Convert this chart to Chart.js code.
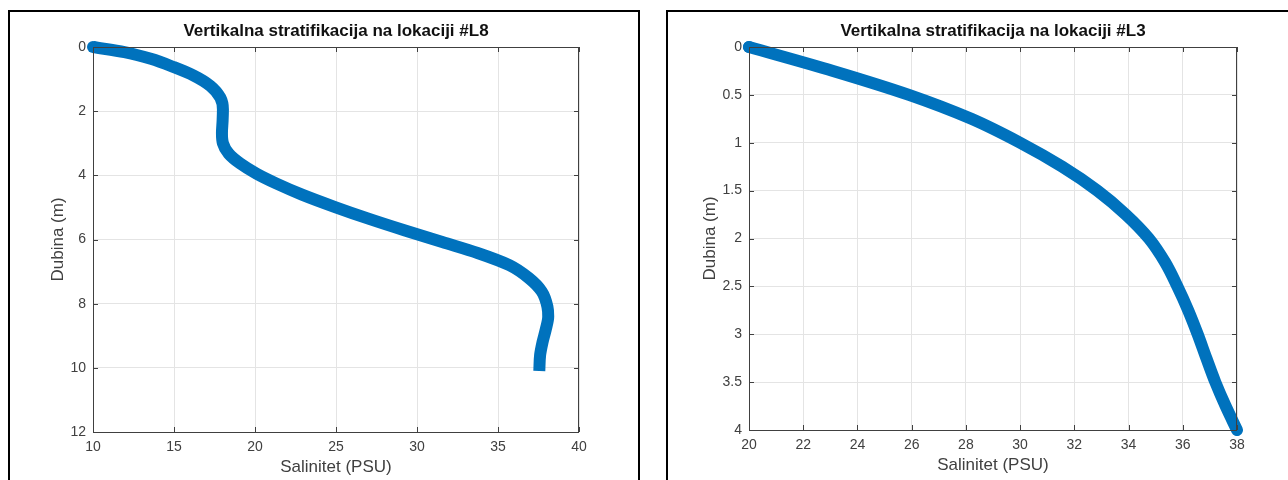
<!DOCTYPE html>
<html>
<head>
<meta charset="utf-8">
<script src="https://cdn.jsdelivr.net/npm/chart.js@4"></script>
<style>
  html, body { margin: 0; padding: 0; background: #fff; overflow: hidden; }
  .panel { position: absolute; top: 10px; height: 480px; border: 2px solid #000; border-bottom: none; }
  #p1 { left: 8px; width: 628px; }
  #p2 { left: 666px; width: 630px; }
  canvas { position: absolute; left: 0; top: 0; }
</style>
</head>
<body>
<div class="panel" id="p1"><canvas id="chartL8" width="628" height="468"></canvas></div>
<div class="panel" id="p2"><canvas id="chartL3" width="622" height="468"></canvas></div>
<script>
// lokacija #L8 - salinitet (PSU) po dubini (m)
const l8Salinity = [10, 11.94, 13.57, 15.0, 16.22, 17.24, 17.86, 18.02, 18.0, 17.96, 18.02, 18.37, 19.08, 20.1, 21.3, 22.9, 24.9, 27.0, 29.26, 31.56, 33.74, 35.7, 36.9, 37.7, 38.05, 38.1, 37.95, 37.75, 37.6, 37.55];
const l8Depth    = [0, 0.16, 0.37, 0.63, 0.89, 1.21, 1.58, 1.95, 2.3, 2.68, 3.0, 3.32, 3.63, 3.95, 4.25, 4.6, 4.98, 5.35, 5.72, 6.08, 6.42, 6.8, 7.2, 7.62, 8.09, 8.4, 8.8, 9.2, 9.6, 10.1];
const l8SalTicks   = [10, 15, 20, 25, 30, 35, 40];
const l8DepthTicks = [0, 2, 4, 6, 8, 10, 12];

// lokacija #L3
const l3Salinity = [20, 23.1, 25.9, 28.2, 30.0, 31.55, 32.85, 33.9, 34.75, 35.35, 35.8, 36.2, 36.55, 36.87, 37.2, 37.58, 38];
const l3Depth    = [0, 0.25, 0.5, 0.75, 1.0, 1.25, 1.5, 1.75, 2.0, 2.25, 2.5, 2.75, 3.0, 3.25, 3.5, 3.75, 4.0];
const l3SalTicks   = [20, 22, 24, 26, 28, 30, 32, 34, 36, 38];
const l3DepthTicks = [0, 0.5, 1, 1.5, 2, 2.5, 3, 3.5, 4];

const FONT = "'Liberation Sans', Arial, Helvetica, sans-serif";
const BLUE = '#0072BD';

// matlab style box with inward ticks
const boxPlugin = {
  id: 'box',
  afterDraw(chart) {
    const {ctx, chartArea: a, scales: {x, y}} = chart;
    ctx.save();
    ctx.strokeStyle = '#404040';
    ctx.lineWidth = 1;
    ctx.beginPath();
    ctx.rect(a.left + 0.5, a.top + 0.5, a.right - a.left - 1, a.bottom - a.top);
    x.ticks.forEach(t => {
      const px = Math.round(x.getPixelForValue(t.value)) + 0.5;
      ctx.moveTo(px, a.bottom); ctx.lineTo(px, a.bottom - 5);
      ctx.moveTo(px, a.top); ctx.lineTo(px, a.top + 5);
    });
    y.ticks.forEach(t => {
      const py = Math.round(y.getPixelForValue(t.value)) + 0.5;
      ctx.moveTo(a.left, py); ctx.lineTo(a.left + 5, py);
      ctx.moveTo(a.right, py); ctx.lineTo(a.right - 5, py);
    });
    ctx.stroke();
    ctx.restore();
  }
};

function makeChart(id, sal, depth, salTicks, depthTicks, title, yWidth, padRight, padBottom, yTitlePad, endCap) {
  const pts = sal.map((s, i) => ({x: s, y: depth[i]}));
  return new Chart(document.getElementById(id), {
    type: 'line',
    data: {
      datasets: [{
        data: pts,
        borderColor: BLUE,
        backgroundColor: BLUE,
        borderWidth: 12,
        borderCapStyle: endCap,
        borderJoinStyle: 'round',
        cubicInterpolationMode: 'monotone',
        pointRadius: ctx => ctx.dataIndex === 0 ? 6 : 0,
        pointBorderWidth: 0,
        clip: false
      }]
    },
    options: {
      indexAxis: 'y',
      responsive: false,
      animation: false,
      layout: { padding: { left: 0, right: padRight, top: 0, bottom: padBottom } },
      plugins: {
        legend: { display: false },
        tooltip: { enabled: false },
        title: {
          display: true,
          text: title,
          fullSize: false,
          color: '#111',
          font: { family: FONT, size: 17, weight: 'bold' },
          padding: { top: 9, bottom: 5.6 }
        }
      },
      scales: {
        x: {
          type: 'linear',
          min: salTicks[0],
          max: salTicks[salTicks.length - 1],
          afterBuildTicks: s => { s.ticks = salTicks.map(v => ({value: v})); },
          afterFit: s => { s.height = 48; },
          grid: { color: '#e4e4e4', drawTicks: false },
          border: { display: false },
          ticks: { color: '#404040', padding: 7, maxRotation: 0, font: { family: FONT, size: 14 }, callback: v => String(v) },
          title: { display: true, text: 'Salinitet (PSU)', color: '#404040', font: { family: FONT, size: 17 }, padding: { top: 0, bottom: 2 } }
        },
        y: {
          type: 'linear',
          reverse: true,
          min: depthTicks[0],
          max: depthTicks[depthTicks.length - 1],
          afterBuildTicks: s => { s.ticks = depthTicks.map(v => ({value: v})); },
          afterFit: s => { s.width = yWidth; },
          grid: { color: '#e4e4e4', drawTicks: false },
          border: { display: false },
          ticks: { color: '#404040', padding: 7, font: { family: FONT, size: 14 }, callback: v => String(v) },
          title: { display: true, text: 'Dubina (m)', color: '#404040', font: { family: FONT, size: 17 }, padding: { top: yTitlePad, bottom: 0 } }
        }
      }
    },
    plugins: [boxPlugin]
  });
}

makeChart('chartL8', l8Salinity, l8Depth, l8SalTicks, l8DepthTicks,
  'Vertikalna stratifikacija na lokaciji #L8', 83, 59, 0, 38, 'butt');
makeChart('chartL3', l3Salinity, l3Depth, l3SalTicks, l3DepthTicks,
  'Vertikalna stratifikacija na lokaciji #L3', 81, 53, 2, 32, 'round');
</script>
</body>
</html>
